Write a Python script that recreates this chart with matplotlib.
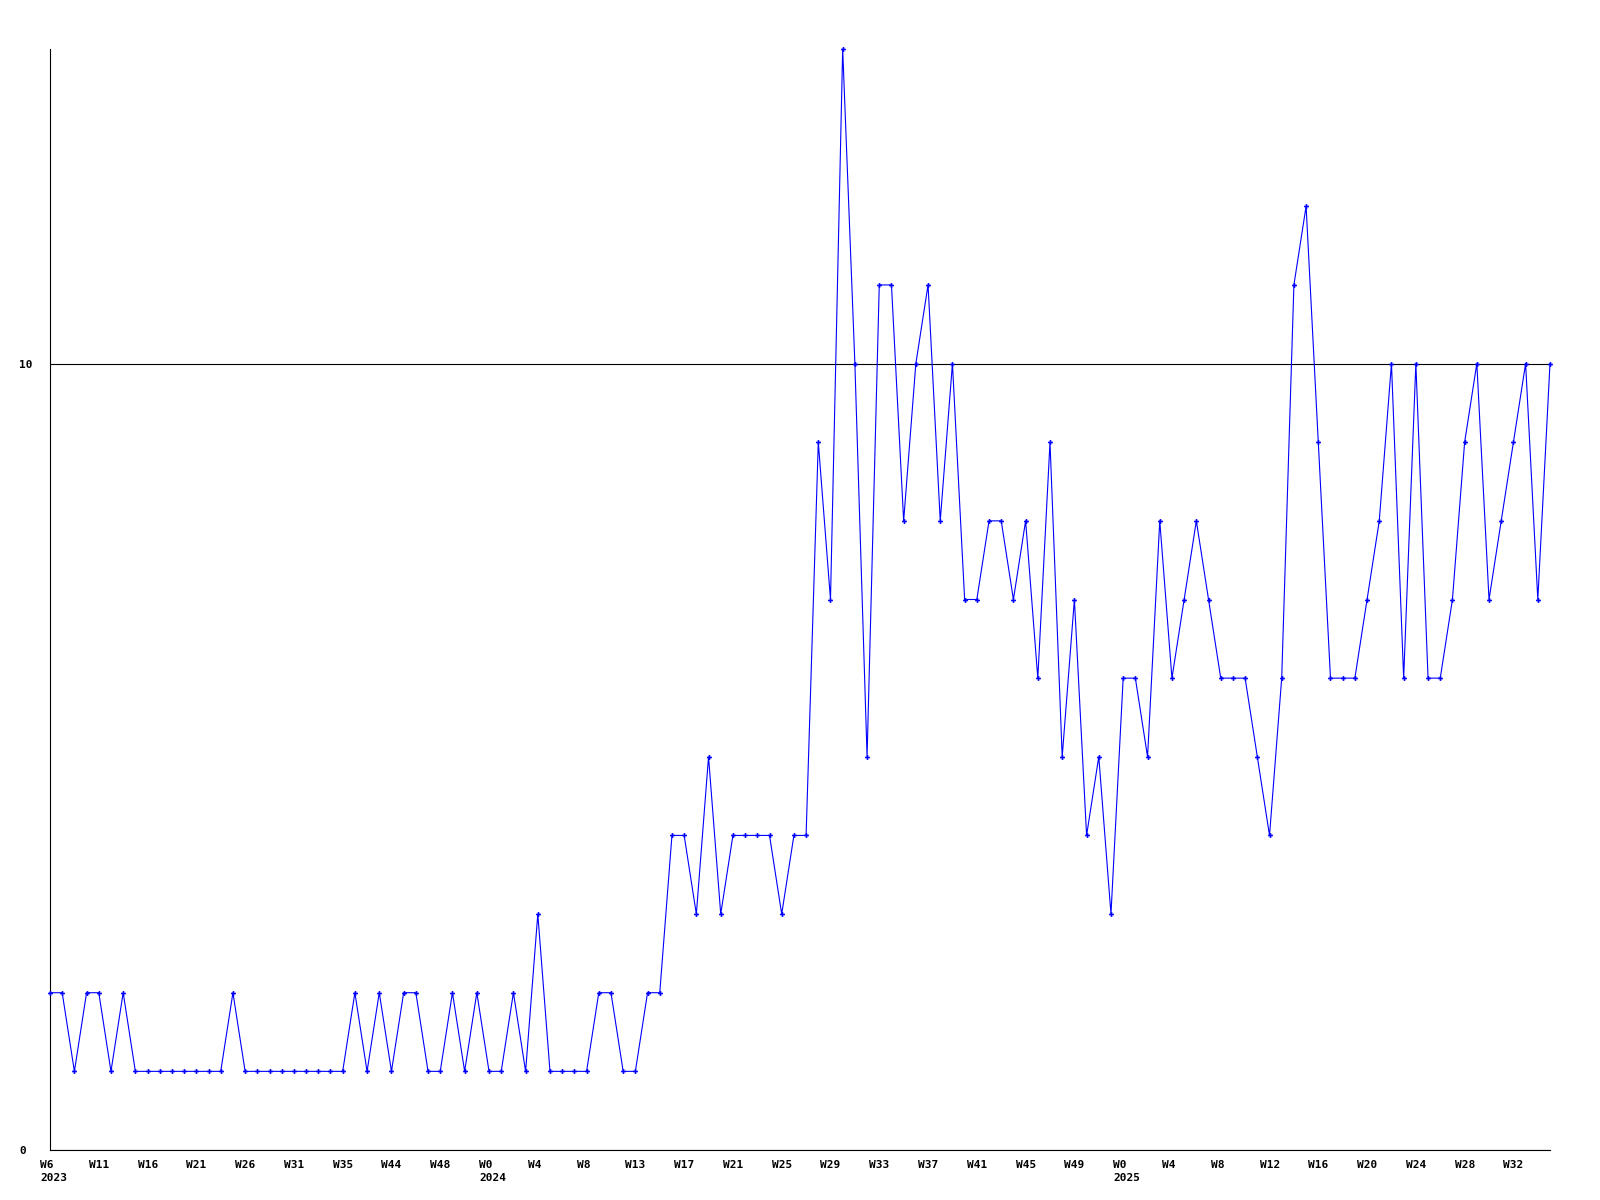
import matplotlib
matplotlib.use("Agg")
import matplotlib.pyplot as plt
from matplotlib.transforms import ScaledTranslation

values = [2, 2, 1, 2, 2, 1, 2, 1, 1, 1, 1, 1, 1, 1, 1, 2,
          1, 1, 1, 1, 1, 1, 1, 1, 1, 2, 1, 2, 1, 2, 2, 1,
          1, 2, 1, 2, 1, 1, 2, 1, 3, 1, 1, 1, 1, 2, 2, 1,
          1, 2, 2, 4, 4, 3, 5, 3, 4, 4, 4, 4, 3, 4, 4, 9,
          7, 14, 10, 5, 11, 11, 8, 10, 11, 8, 10, 7, 7, 8, 8, 7,
          8, 6, 9, 5, 7, 4, 5, 3, 6, 6, 5, 8, 6, 7, 8, 7,
          6, 6, 6, 5, 4, 6, 11, 12, 9, 6, 6, 6, 7, 8, 10, 6,
          10, 6, 6, 7, 9, 10, 7, 8, 9, 10, 7, 10]

tick_labels = ["W6\n2023", "W11", "W16", "W21", "W26", "W31", "W35", "W44", "W48",
               "W0\n2024", "W4", "W8", "W13", "W17", "W21", "W25", "W29", "W33",
               "W37", "W41", "W45", "W49", "W0\n2025", "W4", "W8", "W12", "W16",
               "W20", "W24", "W28", "W32"]
tick_step = 4
y_ticks = [0, 10]
y_tick_labels = ["0", "10"]

fig = plt.figure(figsize=(16, 12), dpi=100)
ax = fig.add_axes([50/1600, 1 - 1150/1200, 1500/1600, (1150 - 49)/1200])

x = list(range(len(values)))
ax.plot(x, values, color="#0000ff", linewidth=0.8, marker="P", markersize=3.5,
        markeredgewidth=0, clip_on=False, zorder=3)

ax.set_xlim(0, len(values) - 1)
ax.set_ylim(0, 14)

for s in ["top", "right"]:
    ax.spines[s].set_visible(False)
for s in ["left", "bottom"]:
    ax.spines[s].set_color("black")
    ax.spines[s].set_linewidth(0.8)

ax.set_yticks(y_ticks)
ax.set_yticklabels(y_tick_labels, fontfamily="DejaVu Sans Mono", fontweight="bold",
                   fontsize=8, ha="left")
ax.tick_params(axis="y", length=0, pad=22)
ax.yaxis.grid(True, color="black", linewidth=0.8)
ax.set_axisbelow(True)

ax.set_xticks([i * tick_step for i in range(len(tick_labels))])
ax.set_xticklabels(tick_labels, fontfamily="DejaVu Sans Mono", fontweight="bold",
                   fontsize=8, ha="left", va="top", linespacing=1.35)
ax.tick_params(axis="x", length=0, pad=7)
off = ScaledTranslation(-10/100, 0, fig.dpi_scale_trans)
for lbl in ax.get_xticklabels():
    lbl.set_transform(lbl.get_transform() + off)
    lbl.set_multialignment("left")

fig.savefig("out.png", dpi=100, facecolor="white")
